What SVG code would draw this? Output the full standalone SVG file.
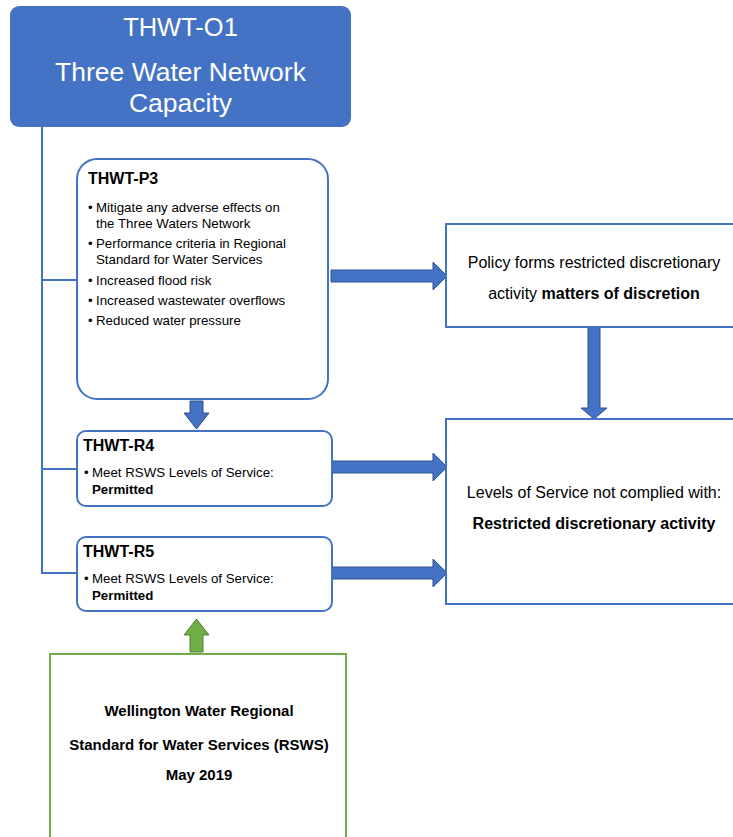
<svg xmlns="http://www.w3.org/2000/svg" width="733" height="837" viewBox="0 0 733 837">
<style>
text{font-family:"Liberation Sans",Arial,sans-serif;fill:#000}
.w{fill:#fff}
.b{font-weight:bold}
.box{fill:#fff;stroke:#4472C4;stroke-width:2}
.gbox{fill:#fff;stroke:#70AD47;stroke-width:2}
.arr{fill:#4472C4;stroke:#2F528F;stroke-width:1}
.garr{fill:#70AD47;stroke:#507E32;stroke-width:1}
.ln{fill:none;stroke:#4472C4;stroke-width:2}
.s13{font-size:13.3px}
.h{font-size:16px;font-weight:bold}
.s16{font-size:16px}
.g{font-size:15px;font-weight:bold}
</style>
<rect width="733" height="837" fill="#fff"/>
<g id="connectors">
<path class="ln" d="M42,127 V573 H77 M42,280 H77 M42,469 H77"/>
<path class="arr" d="M190,401 H203 V413 H209 L196.5,429 L184,413 H190 Z"/>
<path class="arr" d="M331,270 H433 V262 L447,276 L433,290 V282 H331 Z"/>
<path class="arr" d="M332,461 H433 V453 L447,467 L433,481 V473 H332 Z"/>
<path class="arr" d="M332,567 H433 V559 L447,573 L433,587 V579 H332 Z"/>
<path class="arr" d="M588,327 H600 V408 H607 L594,419 L581,408 H588 Z"/>
<path class="garr" d="M190,652 V635 H184 L196.5,619 L209,635 H203 V652 Z"/>
</g>
<g id="o1">
<rect x="10" y="6" width="341" height="121" rx="9" fill="#4472C4"/>
<text class="w" x="180.5" y="36" font-size="25.5" text-anchor="middle">THWT-O1</text>
<text class="w" x="180.5" y="81" font-size="26.5" text-anchor="middle">Three Water Network</text>
<text class="w" x="180.5" y="112" font-size="26.5" text-anchor="middle">Capacity</text>
</g>
<g id="p3">
<rect class="box" x="77" y="159" width="251" height="240" rx="20"/>
<text class="h" x="88" y="184">THWT-P3</text>
<g class="s13">
<text x="88" y="212">•</text><text x="96" y="212">Mitigate any adverse effects on</text>
<text x="96" y="228">the Three Waters Network</text>
<text x="88" y="248">•</text><text x="96" y="248">Performance criteria in Regional</text>
<text x="96" y="264">Standard for Water Services</text>
<text x="88" y="285">•</text><text x="96" y="285">Increased flood risk</text>
<text x="88" y="305">•</text><text x="96" y="305">Increased wastewater overflows</text>
<text x="88" y="325">•</text><text x="96" y="325">Reduced water pressure</text>
</g>
</g>
<g id="r4">
<rect class="box" x="77" y="431" width="255" height="75" rx="9"/>
<text class="h" x="83" y="451">THWT-R4</text>
<text class="s13" x="84" y="477">•</text><text class="s13" x="92" y="477">Meet RSWS Levels of Service:</text>
<text class="s13 b" x="92" y="494">Permitted</text>
</g>
<g id="r5">
<rect class="box" x="77" y="537" width="255" height="74" rx="9"/>
<text class="h" x="83" y="557">THWT-R5</text>
<text class="s13" x="84" y="583">•</text><text class="s13" x="92" y="583">Meet RSWS Levels of Service:</text>
<text class="s13 b" x="92" y="600">Permitted</text>
</g>
<g id="policy">
<rect class="box" x="446" y="224" width="300" height="103"/>
<text class="s16" x="594" y="268" text-anchor="middle">Policy forms restricted discretionary</text>
<text class="s16" x="594" y="299" text-anchor="middle">activity <tspan class="b">matters of discretion</tspan></text>
</g>
<g id="rda">
<rect class="box" x="446" y="419" width="300" height="185"/>
<text class="s16" x="594" y="498" text-anchor="middle">Levels of Service not complied with:</text>
<text class="s16 b" x="594" y="529" text-anchor="middle">Restricted discretionary activity</text>
</g>
<g id="rsws">
<rect class="gbox" x="50" y="654" width="296" height="200"/>
<text class="g" x="199" y="716" text-anchor="middle">Wellington Water Regional</text>
<text class="g" x="199" y="750" text-anchor="middle">Standard for Water Services (RSWS)</text>
<text class="g" x="199" y="780" text-anchor="middle">May 2019</text>
</g>
</svg>
